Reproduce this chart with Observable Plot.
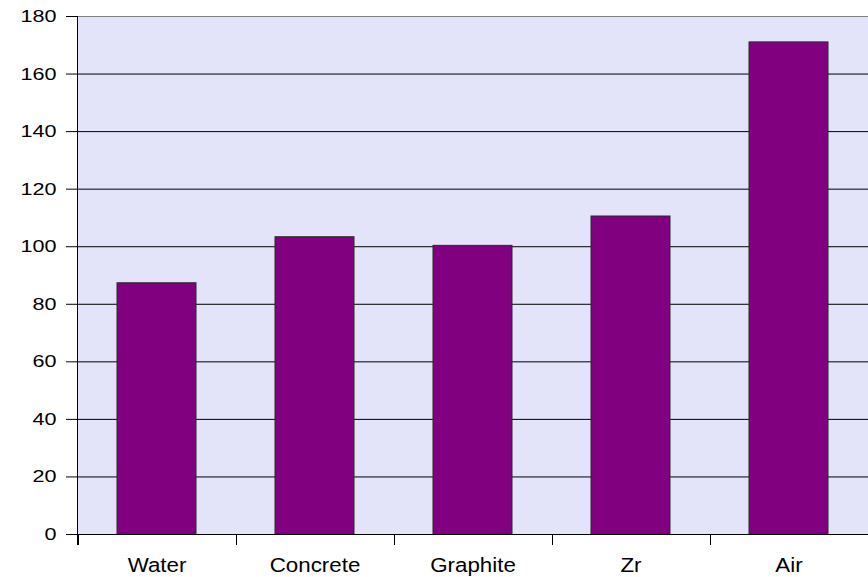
<!DOCTYPE html>
<html>
<head>
<meta charset="utf-8">
<script src="https://cdn.jsdelivr.net/npm/d3@7"></script>
<script src="https://cdn.jsdelivr.net/npm/@observablehq/plot@0.6"></script>
<style>
  html, body { margin: 0; padding: 0; background: #fff; }
  #chart svg { display: block; }
</style>
</head>
<body>
<div id="chart"></div>
<script>
// Materials and their values
const materials = ["Water", "Concrete", "Graphite", "Zr", "Air"];
const values = [87.3, 103.3, 100.3, 110.5, 171];
const yTicks = [0, 20, 40, 60, 80, 100, 120, 140, 160, 180];

const data = materials.map((name, i) => ({ name, value: values[i] }));

const chart = Plot.plot({
  width: 868,
  height: 577,
  marginLeft: 77,
  marginRight: 0,
  marginTop: 16,
  marginBottom: 43,
  style: {
    fontFamily: "'Liberation Sans', Arial, Helvetica, sans-serif",
    background: "#ffffff",
    color: "#000000",
    overflow: "visible"
  },
  x: { domain: materials, paddingInner: 0.5, paddingOuter: 0.25, label: null },
  y: { domain: [0, 180], label: null },
  marks: [
    Plot.frame({ fill: "#E3E3FA", stroke: null }),
    Plot.ruleY(yTicks.filter(v => v > 0 && v < 180), { stroke: "#000000", strokeWidth: 1 }),
    Plot.ruleY([180], { stroke: "#808080", strokeWidth: 1 }),
    Plot.barY(data, { x: "name", y: "value", fill: "#800080", stroke: "#2b2b2b", strokeWidth: 1 }),
    Plot.ruleY([0], { stroke: "#000000", strokeWidth: 1 }),
    Plot.axisY({ ticks: yTicks, tickSize: 11, tickPadding: 10, fontSize: 17, label: null }),
    Plot.axisX({ tickSize: 0, tickPadding: 23, fontSize: 20.5, label: null })
  ]
});

document.getElementById("chart").appendChild(chart);

// Category boundary ticks and the left axis line, placed from the chart's scales
const x = chart.scale("x");
const y = chart.scale("y");
const svg = d3.select(chart);
const gap = (x.step - x.bandwidth) / 2;
const boundaries = materials.map(c => x.apply(c) - gap);
const y0 = y.apply(0);
const yTop = y.apply(180);
const g = svg.append("g").attr("stroke", "#000").attr("stroke-width", 1);
boundaries.forEach(bx => {
  const px = Math.round(bx) + 0.5;
  g.append("line").attr("x1", px).attr("x2", px).attr("y1", y0).attr("y2", y0 + 11);
});
const lx = Math.round(x.range[0]) + 0.5;
g.append("line").attr("x1", lx).attr("x2", lx).attr("y1", yTop).attr("y2", y0 + 11);

// Slightly widened glyphs for the tick labels
function widen(selector, factor) {
  svg.selectAll(selector).each(function () {
    const len = this.getComputedTextLength();
    this.setAttribute("textLength", (len * factor).toFixed(2));
    this.setAttribute("lengthAdjust", "spacingAndGlyphs");
  });
}
widen('g[aria-label="y-axis tick label"] text', 1.27);
widen('g[aria-label="x-axis tick label"] text', 1.09);
</script>
</body>
</html>
